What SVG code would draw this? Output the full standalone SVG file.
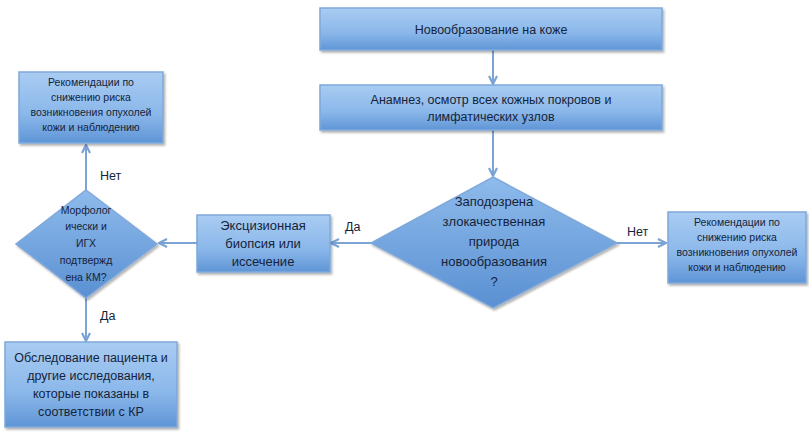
<svg xmlns="http://www.w3.org/2000/svg" width="809" height="436" viewBox="0 0 809 436">
<defs>
<linearGradient id="gBox" x1="0" y1="0" x2="0" y2="1">
<stop offset="0" stop-color="#a9ccf2"/>
<stop offset="0.6" stop-color="#8ab7ea"/>
<stop offset="1" stop-color="#5f95d6"/>
</linearGradient>
<linearGradient id="gDia" x1="0" y1="0" x2="0" y2="1">
<stop offset="0" stop-color="#8fbbec"/>
<stop offset="1" stop-color="#5a90d2"/>
</linearGradient>
<filter id="sh" x="-10%" y="-10%" width="130%" height="140%">
<feDropShadow dx="1.5" dy="2" stdDeviation="1.2" flood-color="#000" flood-opacity="0.3"/>
</filter>
<marker id="arr" viewBox="0 0 10 10" refX="9" refY="5" markerWidth="5" markerHeight="5" orient="auto">
<path d="M1,1 L9,5 L1,9" fill="none" stroke="#7ba3d6" stroke-width="2.2"/>
</marker>
</defs>
<style>
.box{fill:url(#gBox);stroke:#7fa8da;stroke-width:1.5;filter:url(#sh)}
.dia{fill:url(#gDia);stroke:#7fa8da;stroke-width:1.5;filter:url(#sh)}
text{font-family:"Liberation Sans","Open Sans",sans-serif;fill:#15233a;text-anchor:middle}
.t12{font-size:12.5px}
.t11{font-size:10.5px}
.t13{font-size:13px}
.lbl{font-size:12.5px;text-anchor:start}
.con{stroke:#7ba3d6;stroke-width:2;fill:none;marker-end:url(#arr)}
</style>
<rect width="809" height="436" fill="#ffffff"/>
<g id="connectors">
<line class="con" x1="493" y1="50" x2="493" y2="84"/>
<line class="con" x1="493" y1="130" x2="493" y2="176"/>
<line class="con" x1="617" y1="243" x2="666" y2="243"/>
<line class="con" x1="371" y1="243" x2="331" y2="243"/>
<line class="con" x1="197" y1="243" x2="159" y2="243"/>
<line class="con" x1="86" y1="190" x2="86" y2="145"/>
<line class="con" x1="86" y1="298" x2="86" y2="341"/>
<text class="lbl" x="345" y="231">Да</text>
<text class="lbl" x="627" y="236">Нет</text>
<text class="lbl" x="100" y="180">Нет</text>
<text class="lbl" x="100" y="320">Да</text>
</g>
<g id="n1">
<rect class="box" x="320" y="8" width="342" height="42"/>
<text class="t12" x="491" y="34">Новообразование на коже</text>
</g>
<g id="n2">
<rect class="box" x="320" y="85" width="342" height="45"/>
<text class="t12" x="491" y="104">Анамнез, осмотр всех кожных покровов и</text>
<text class="t12" x="491" y="121">лимфатических узлов</text>
</g>
<g id="n3">
<polygon class="dia" points="493,177 617,243 493,308 371,243"/>
<text class="t13" x="494" y="206">Заподозрена</text>
<text class="t13" x="494" y="226">злокачественная</text>
<text class="t13" x="494" y="246">природа</text>
<text class="t13" x="494" y="266">новообразования</text>
<text class="t13" x="494" y="286">?</text>
</g>
<g id="n4">
<rect class="box" x="668" y="212" width="138" height="71"/>
<text class="t11" x="737" y="226">Рекомендации по</text>
<text class="t11" x="737" y="241">снижению риска</text>
<text class="t11" x="737" y="256">возникновения опухолей</text>
<text class="t11" x="737" y="271">кожи и наблюдению</text>
</g>
<g id="n5">
<rect class="box" x="197" y="215" width="133" height="57"/>
<text class="t13" x="263" y="230">Эксцизионная</text>
<text class="t13" x="263" y="248">биопсия или</text>
<text class="t13" x="263" y="266">иссечение</text>
</g>
<g id="n6">
<polygon class="dia" points="86,190 157,244 86,298 16,244"/>
<text class="t11" x="86" y="214">Морфолог</text>
<text class="t11" x="86" y="230">ически и</text>
<text class="t11" x="86" y="247">ИГХ</text>
<text class="t11" x="86" y="264">подтвержд</text>
<text class="t11" x="86" y="281">ена КМ?</text>
</g>
<g id="n7">
<rect class="box" x="19" y="72" width="144" height="71"/>
<text class="t11" x="91" y="86">Рекомендации по</text>
<text class="t11" x="91" y="101">снижению риска</text>
<text class="t11" x="91" y="116">возникновения опухолей</text>
<text class="t11" x="91" y="131">кожи и наблюдению</text>
</g>
<g id="n8">
<rect class="box" x="5" y="342" width="172" height="85"/>
<text class="t12" x="91" y="362">Обследование пациента и</text>
<text class="t12" x="91" y="380">другие исследования,</text>
<text class="t12" x="91" y="398">которые показаны в</text>
<text class="t12" x="91" y="416">соответствии с КР</text>
</g>
</svg>
